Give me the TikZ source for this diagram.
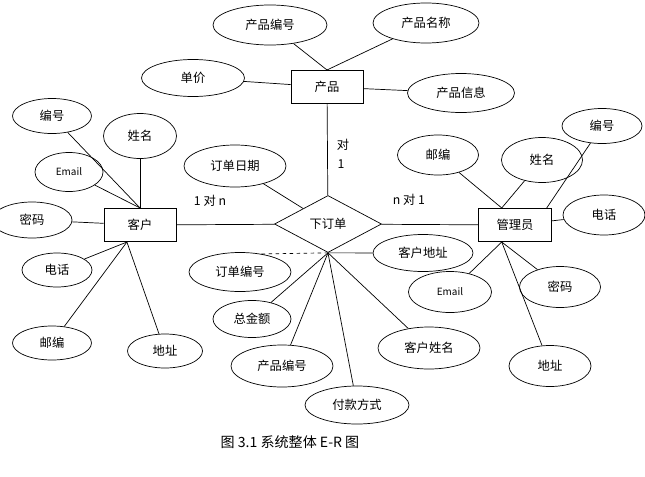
\documentclass[tikz,border=0pt]{standalone}
\usepackage{fontspec}
\setmainfont{Noto Sans CJK SC}
\usetikzlibrary{shapes.geometric,calc}
\begin{document}
\begin{tikzpicture}[x=0.03cm, y=-0.03cm, line width=0.6pt,
  font=\fontsize{10.5}{12}\selectfont,
  attr/.style 2 args={draw, ellipse, inner sep=0pt, minimum width=#1, minimum height=#2},
  ent/.style={draw, rectangle, inner sep=0pt, minimum width=2.16cm, minimum height=1cm},
  rel/.style={draw, diamond, inner sep=0pt, minimum width=3.21cm, minimum height=1.71cm},
  lbl/.style={inner sep=1pt}]
\useasboundingbox (0,0) rectangle (645,476);

\node[ent] (p) at (327,87) {产品};
\node[attr={3.42cm}{1.2cm}] (pno) at (270,25) {产品编号};
\node[attr={3.09cm}{1.11cm}] (pprice) at (193,78) {单价};
\node[attr={3.18cm}{1.2cm}] (pname) at (426,23) {产品名称};
\node[attr={3.21cm}{1.17cm}] (pinfo) at (461,93) {产品信息};

\node[ent] (c) at (140,225) {客户};
\node[attr={2.37cm}{1.05cm}] (cno) at (52,116) {编号};
\node[attr={2.19cm}{1.35cm}] (cname) at (140,136) {姓名};
\node[attr={2.04cm}{1.17cm}, font=\fontsize{8.5}{10}\selectfont] (cmail) at (69,172) {Email};
\node[attr={2.4cm}{1.08cm}] (cpwd) at (32,220) {密码};
\node[attr={2.1cm}{1.02cm}] (ctel) at (57,270) {电话};
\node[attr={2.37cm}{1.02cm}] (czip) at (52,343) {邮编};
\node[attr={2.25cm}{1.02cm}] (caddr) at (165,351) {地址};

\node[rel] (order) at (328,224) {下订单};
\node[attr={3.06cm}{1.26cm}] (odate) at (235,166) {订单日期};
\node[attr={3.06cm}{1.17cm}] (ono) at (240,272) {订单编号};
\node[attr={2.34cm}{1.11cm}] (osum) at (252,319) {总金额};
\node[attr={3.06cm}{1.26cm}] (opno) at (282,366) {产品编号};
\node[attr={3.12cm}{1.14cm}] (opay) at (357,405) {付款方式};
\node[attr={3.06cm}{1.26cm}] (ocname) at (429,348) {客户姓名};
\node[attr={3cm}{1.11cm}] (ocaddr) at (423,253) {客户地址};

\node[ent, minimum width=2.19cm] (m) at (515,225) {管理员};
\node[attr={2.43cm}{1.2cm}] (mzip) at (438,155) {邮编};
\node[attr={2.43cm}{1.35cm}] (mname) at (542,160) {姓名};
\node[attr={2.4cm}{1.05cm}] (mno) at (602,126) {编号};
\node[attr={2.46cm}{1.2cm}] (mtel) at (604,215) {电话};
\node[attr={2.49cm}{1.23cm}, font=\fontsize{8.5}{10}\selectfont] (mmail) at (450,292) {Email};
\node[attr={2.43cm}{1.23cm}] (mpwd) at (560,287) {密码};
\node[attr={2.46cm}{1.23cm}] (maddr) at (550,366) {地址};

\node[lbl] (l1) at (210,201) {1 对 n};
\node[lbl] (l2) at (343,145) {对};
\node[lbl] (l3) at (341,164) {1};
\node[lbl] (l4) at (409,200) {n 对 1};
\node[lbl, font=\fontsize{12}{14}\selectfont] (cap) at (290,442) {图 3.1 系统整体 E-R 图};

\coordinate (cb) at ($(c.south west)!0.32!(c.south east)$);
\coordinate (mt) at ($(m.north west)!0.32!(m.north east)$);
\coordinate (mt2) at ($(m.north west)!0.93!(m.north east)$);
\coordinate (mb) at ($(m.south west)!0.32!(m.south east)$);

\draw (pno) -- (p.north);
\draw (pname) -- (p.north);
\draw (pprice) -- (p);
\draw (pinfo) -- (p);
\draw (p) -- (order);

\draw (cno) -- (c.north);
\draw (cname) -- (c.north);
\draw (cmail) -- (c.north);
\draw (cpwd) -- (c);
\draw (ctel) -- (cb);
\draw (czip) -- (cb);
\draw (caddr) -- (cb);
\draw (c) -- (order);

\draw (odate) -- (order);
\draw[dashed] (ono.40) -- (order.south);
\draw (osum) -- (order.south);
\draw (opno) -- (order.south);
\draw (opay) -- (order.south);
\draw (ocname) -- (order.south);
\draw (order.south) -- (ocaddr);
\draw (order) -- (m);

\draw (mzip) -- (mt);
\draw (mname) -- (mt);
\draw (mno) -- (mt2);
\draw (m) -- (mtel);
\draw (mmail) -- (mb);
\draw (mpwd) -- (mb);
\draw (maddr) -- (mb);
\end{tikzpicture}
\end{document}
